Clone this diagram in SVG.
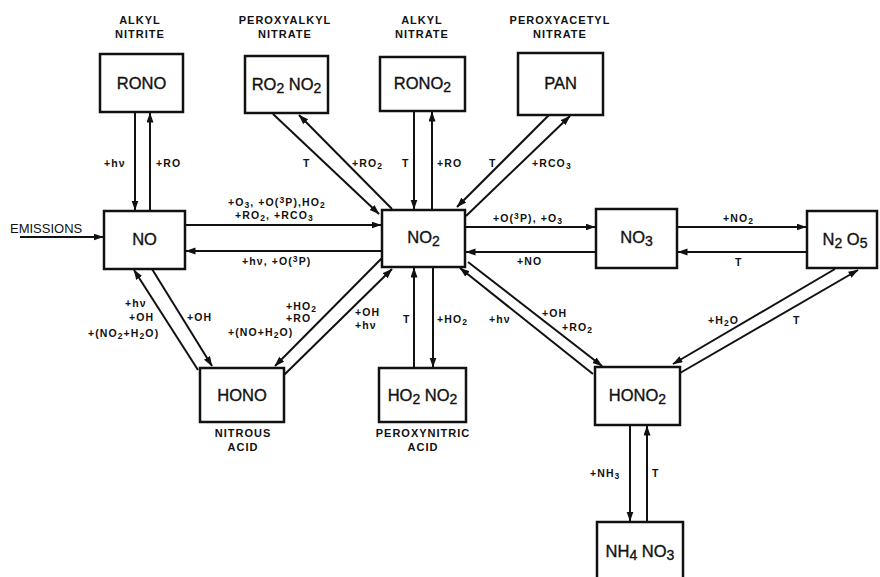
<svg xmlns="http://www.w3.org/2000/svg" width="880" height="577" viewBox="0 0 880 577">
<style>
.box{fill:#fff;stroke:#111;stroke-width:2.5}
.n{font-family:"Liberation Sans",Arial,sans-serif;font-size:16.5px;fill:#111;stroke:#111;stroke-width:0.35;text-anchor:middle}
.n tspan.s{font-size:14px}
.t{font-family:"Liberation Sans",Arial,sans-serif;font-size:11px;font-weight:bold;fill:#111;text-anchor:middle;letter-spacing:1px}
.e{font-family:"Liberation Sans",Arial,sans-serif;font-size:10.5px;font-weight:bold;fill:#111;letter-spacing:1.1px}
.e tspan.s{font-size:8.5px}
.em{font-family:"Liberation Sans",Arial,sans-serif;font-size:13px;fill:#111}
.c line{stroke:#111;stroke-width:2;marker-end:url(#ah)}
</style>
<defs>
<marker id="ah" markerUnits="userSpaceOnUse" markerWidth="11" markerHeight="8" refX="9.5" refY="3.5" orient="auto">
<path d="M0,0 L10,3.5 L0,7 Z" fill="#111"/>
</marker>
</defs>
<rect width="880" height="577" fill="#fff"/>

<g class="c" id="connectors">
<line x1="135" y1="112" x2="135" y2="210"/>
<line x1="150" y1="211" x2="150" y2="113"/>
<line x1="273" y1="114" x2="379" y2="214"/>
<line x1="392" y1="209" x2="299" y2="115"/>
<line x1="414" y1="111" x2="414" y2="209"/>
<line x1="432" y1="210" x2="432" y2="112"/>
<line x1="549" y1="115" x2="457" y2="207"/>
<line x1="466" y1="216" x2="570" y2="116"/>
<line x1="20" y1="237" x2="103" y2="237"/>
<line x1="185" y1="225" x2="381" y2="225"/>
<line x1="382" y1="251" x2="186" y2="251"/>
<line x1="465" y1="227" x2="595" y2="227"/>
<line x1="596" y1="252" x2="466" y2="252"/>
<line x1="677" y1="227" x2="806" y2="227"/>
<line x1="807" y1="252" x2="678" y2="252"/>
<line x1="835" y1="269" x2="673" y2="364"/>
<line x1="680" y1="373" x2="858" y2="270"/>
<line x1="593" y1="374" x2="460" y2="268"/>
<line x1="468" y1="262" x2="602" y2="366"/>
<line x1="414" y1="368" x2="414" y2="268"/>
<line x1="433" y1="267" x2="433" y2="367"/>
<line x1="198" y1="370" x2="134" y2="270"/>
<line x1="152" y1="269" x2="212" y2="366"/>
<line x1="382" y1="258" x2="275" y2="366"/>
<line x1="284" y1="375" x2="392" y2="269"/>
<line x1="630" y1="425" x2="630" y2="521"/>
<line x1="647" y1="522" x2="647" y2="426"/>
</g>

<g id="edge-labels">
<text class="e" x="104" y="167">+hν</text>
<text class="e" x="156" y="167">+RO</text>
<text class="e" x="303" y="167">T</text>
<text class="e" x="352" y="167">+RO<tspan class="s" dy="2">2</tspan></text>
<text class="e" x="402" y="167">T</text>
<text class="e" x="437" y="167">+RO</text>
<text class="e" x="489" y="167">T</text>
<text class="e" x="532" y="167">+RCO<tspan class="s" dy="2">3</tspan></text>
<text class="em" x="10" y="233">EMISSIONS</text>
<text class="e" x="228" y="206">+O<tspan class="s" dy="2">3</tspan><tspan dy="-2">, +O(</tspan><tspan class="s" dy="-3">3</tspan><tspan dy="3">P),HO</tspan><tspan class="s" dy="2">2</tspan></text>
<text class="e" x="235" y="219">+RO<tspan class="s" dy="2">2</tspan><tspan dy="-2">, +RCO</tspan><tspan class="s" dy="2">3</tspan></text>
<text class="e" x="242" y="265">+hν, +O(<tspan class="s" dy="-3">3</tspan><tspan dy="3">P)</tspan></text>
<text class="e" x="493" y="222">+O(<tspan class="s" dy="-3">3</tspan><tspan dy="3">P), +O</tspan><tspan class="s" dy="2">3</tspan></text>
<text class="e" x="517" y="265">+NO</text>
<text class="e" x="723" y="222">+NO<tspan class="s" dy="2">2</tspan></text>
<text class="e" x="735" y="266">T</text>
<text class="e" x="708" y="324">+H<tspan class="s" dy="2">2</tspan><tspan dy="-2">O</tspan></text>
<text class="e" x="793" y="324">T</text>
<text class="e" x="489" y="323">+hν</text>
<text class="e" x="542" y="317">+OH</text>
<text class="e" x="562" y="331">+RO<tspan class="s" dy="2">2</tspan></text>
<text class="e" x="403" y="323">T</text>
<text class="e" x="437" y="323">+HO<tspan class="s" dy="2">2</tspan></text>
<text class="e" x="125" y="307">+hν</text>
<text class="e" x="129" y="321">+OH</text>
<text class="e" x="88" y="337">+(NO<tspan class="s" dy="2">2</tspan><tspan dy="-2">+H</tspan><tspan class="s" dy="2">2</tspan><tspan dy="-2">O)</tspan></text>
<text class="e" x="187" y="321">+OH</text>
<text class="e" x="286" y="310">+HO<tspan class="s" dy="2">2</tspan></text>
<text class="e" x="286" y="322">+RO</text>
<text class="e" x="228" y="336">+(NO+H<tspan class="s" dy="2">2</tspan><tspan dy="-2">O)</tspan></text>
<text class="e" x="355" y="316">+OH</text>
<text class="e" x="355" y="329">+hν</text>
<text class="e" x="590" y="477">+NH<tspan class="s" dy="2">3</tspan></text>
<text class="e" x="652" y="477">T</text>
</g>

<g id="RONO">
<text class="t" x="140" y="24">ALKYL</text>
<text class="t" x="140" y="38">NITRITE</text>
<rect class="box" x="100" y="54" width="83" height="58"/>
<text class="n" x="141.5" y="89">RONO</text>
</g>
<g id="RO2NO2">
<text class="t" x="285" y="24">PEROXYALKYL</text>
<text class="t" x="285" y="38">NITRATE</text>
<rect class="box" x="245" y="56" width="83" height="57"/>
<text class="n" x="286.5" y="90">RO<tspan class="s" dy="3">2</tspan><tspan dy="-3"> NO</tspan><tspan class="s" dy="3">2</tspan></text>
</g>
<g id="RONO2">
<text class="t" x="422" y="24">ALKYL</text>
<text class="t" x="422" y="38">NITRATE</text>
<rect class="box" x="380" y="57" width="85" height="54"/>
<text class="n" x="422.5" y="89">RONO<tspan class="s" dy="3">2</tspan></text>
</g>
<g id="PAN">
<text class="t" x="560" y="24">PEROXYACETYL</text>
<text class="t" x="560" y="38">NITRATE</text>
<rect class="box" x="518" y="53" width="85" height="62"/>
<text class="n" x="560.5" y="89">PAN</text>
</g>
<g id="NO">
<rect class="box" x="104" y="211" width="81" height="58"/>
<text class="n" x="144.5" y="245">NO</text>
</g>
<g id="NO2">
<rect class="box" x="382" y="210" width="83" height="57"/>
<text class="n" x="423.5" y="243">NO<tspan class="s" dy="3">2</tspan></text>
</g>
<g id="NO3">
<rect class="box" x="596" y="209" width="81" height="59"/>
<text class="n" x="636.5" y="243">NO<tspan class="s" dy="3">3</tspan></text>
</g>
<g id="N2O5">
<rect class="box" x="807" y="211" width="70" height="57"/>
<text class="n" x="845" y="245">N<tspan class="s" dy="3">2</tspan><tspan dy="-3"> O</tspan><tspan class="s" dy="3">5</tspan></text>
</g>
<g id="HONO">
<rect class="box" x="200" y="368" width="84" height="54"/>
<text class="n" x="242" y="401">HONO</text>
<text class="t" x="243" y="437">NITROUS</text>
<text class="t" x="243" y="451">ACID</text>
</g>
<g id="HO2NO2">
<rect class="box" x="379" y="368" width="87" height="54"/>
<text class="n" x="422.5" y="401">HO<tspan class="s" dy="3">2</tspan><tspan dy="-3"> NO</tspan><tspan class="s" dy="3">2</tspan></text>
<text class="t" x="423" y="437">PEROXYNITRIC</text>
<text class="t" x="423" y="451">ACID</text>
</g>
<g id="HONO2">
<rect class="box" x="595" y="367" width="85" height="58"/>
<text class="n" x="637.5" y="401">HONO<tspan class="s" dy="3">2</tspan></text>
</g>
<g id="NH4NO3">
<rect class="box" x="597" y="522" width="86" height="62"/>
<text class="n" x="640" y="557">NH<tspan class="s" dy="3">4</tspan><tspan dy="-3"> NO</tspan><tspan class="s" dy="3">3</tspan></text>
</g>
</svg>
